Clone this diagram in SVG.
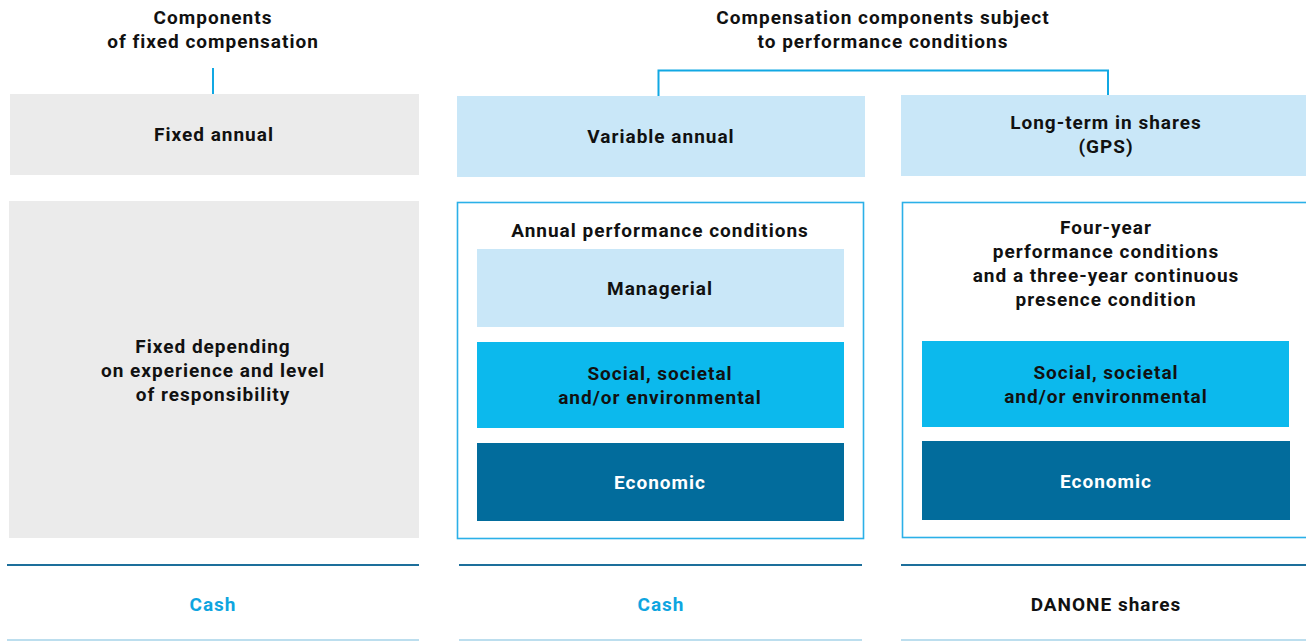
<svg xmlns="http://www.w3.org/2000/svg" width="1306" height="641" viewBox="0 0 1306 641">
<style>
text{font-family:Roboto,"Liberation Sans",sans-serif;font-weight:700;font-size:19px;letter-spacing:1px;text-anchor:middle;fill:#111}
.w{fill:#fff}
.c{fill:#0ea5e0}
.gray{fill:#ebebeb}
.lb{fill:#c9e7f8}
.cy{fill:#0cb9ed}
.dk{fill:#026c9c}
.out{fill:none;stroke:#2bb0e8;stroke-width:1.6}
.con{fill:none;stroke:#11a8e3;stroke-width:2}
.top{stroke:#1d6f9b;stroke-width:2}
.bot{stroke:#a6d3e8;stroke-width:1.5}
</style>
<g id="heading-fixed">
<text x="213" y="24">Components</text>
<text x="213" y="48">of fixed compensation</text>
</g>
<g id="heading-perf">
<text x="883" y="24">Compensation components subject</text>
<text x="883" y="48">to performance conditions</text>
</g>
<g id="connectors">
<path class="con" d="M213 68V94"/>
<path class="con" d="M658.5 96V70.5H1108V95"/>
</g>
<g id="fixed-annual">
<rect class="gray" x="10" y="94" width="409" height="81"/>
<text x="214" y="141">Fixed annual</text>
</g>
<g id="fixed-depending">
<rect class="gray" x="9" y="201" width="410" height="337"/>
<text x="213" y="353">Fixed depending</text>
<text x="213" y="377">on experience and level</text>
<text x="213" y="401">of responsibility</text>
</g>
<g id="variable-annual">
<rect class="lb" x="457" y="96" width="408" height="81"/>
<text x="661" y="143">Variable annual</text>
</g>
<g id="long-term">
<rect class="lb" x="901" y="95" width="405" height="81"/>
<text x="1106" y="129">Long-term in shares</text>
<text x="1106" y="153">(GPS)</text>
</g>
<g id="annual-conditions">
<rect class="out" x="457.5" y="202.5" width="406" height="336"/>
<text x="660" y="237">Annual performance conditions</text>
</g>
<g id="managerial">
<rect class="lb" x="477" y="249" width="367" height="78"/>
<text x="660" y="295">Managerial</text>
</g>
<g id="social-annual">
<rect class="cy" x="477" y="342" width="367" height="86"/>
<text x="660" y="380">Social, societal</text>
<text x="660" y="404">and/or environmental</text>
</g>
<g id="economic-annual">
<rect class="dk" x="477" y="443" width="367" height="78"/>
<text class="w" x="660" y="489">Economic</text>
</g>
<g id="longterm-conditions">
<rect class="out" x="902.5" y="202.5" width="420" height="335"/>
<text x="1106" y="234">Four-year</text>
<text x="1106" y="258">performance conditions</text>
<text x="1106" y="282">and a three-year continuous</text>
<text x="1106" y="306">presence condition</text>
</g>
<g id="social-longterm">
<rect class="cy" x="922" y="341" width="367" height="86"/>
<text x="1106" y="379">Social, societal</text>
<text x="1106" y="403">and/or environmental</text>
</g>
<g id="economic-longterm">
<rect class="dk" x="922" y="441" width="368" height="79"/>
<text class="w" x="1106" y="488">Economic</text>
</g>
<g id="cash-fixed">
<line class="top" x1="7" y1="565" x2="419" y2="565"/>
<line class="bot" x1="7" y1="640" x2="419" y2="640"/>
<text class="c" x="213" y="611">Cash</text>
</g>
<g id="cash-variable">
<line class="top" x1="459" y1="565" x2="862" y2="565"/>
<line class="bot" x1="459" y1="640" x2="862" y2="640"/>
<text class="c" x="661" y="611">Cash</text>
</g>
<g id="shares">
<line class="top" x1="901" y1="565" x2="1306" y2="565"/>
<line class="bot" x1="901" y1="640" x2="1306" y2="640"/>
<text x="1106" y="611">DANONE shares</text>
</g>
</svg>
